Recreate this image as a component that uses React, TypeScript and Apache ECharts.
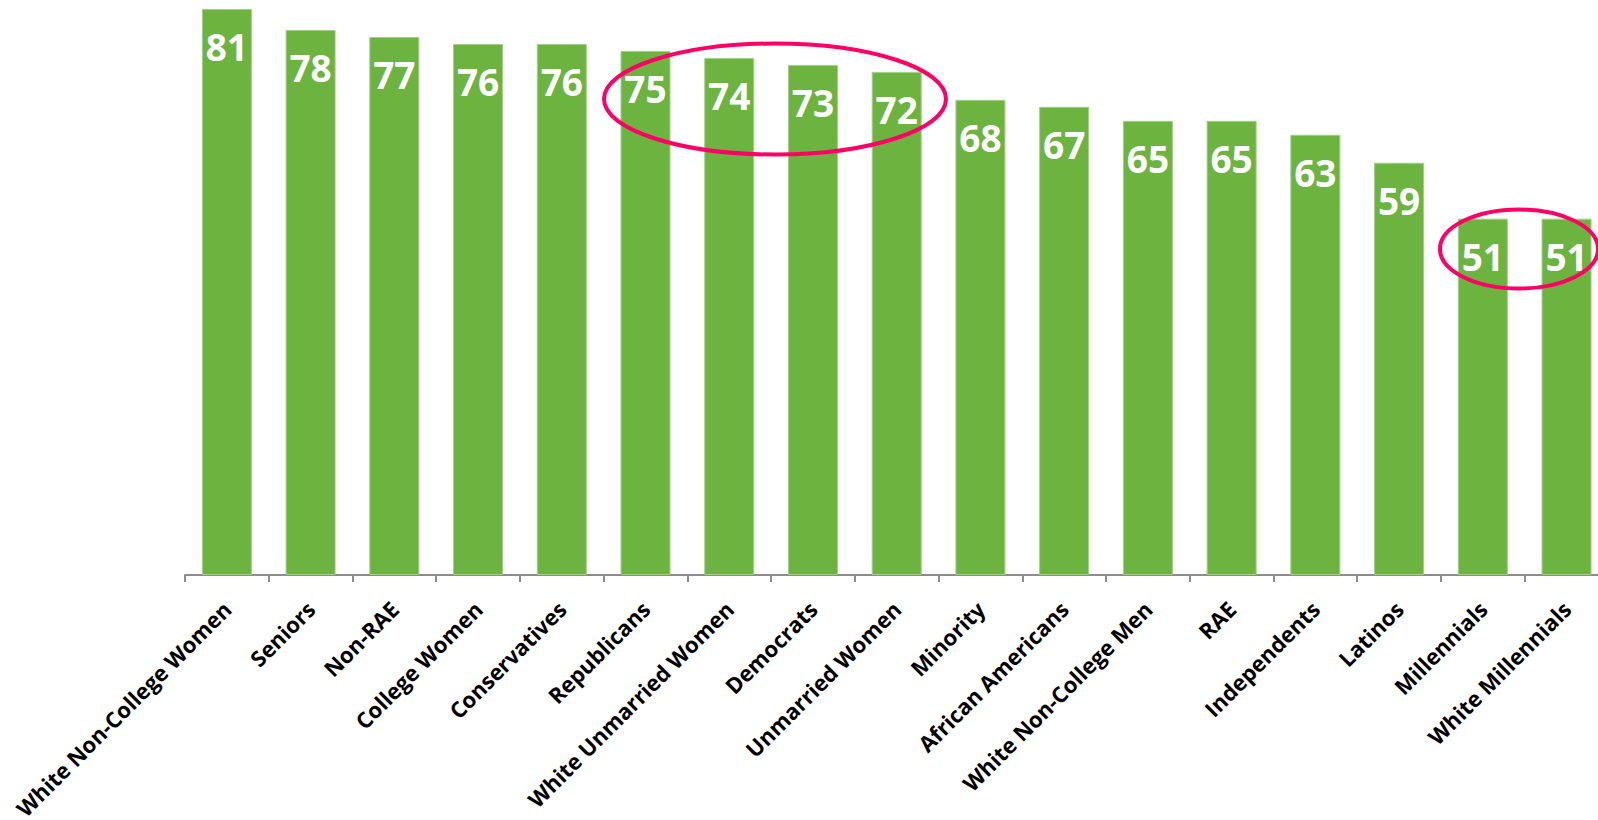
import React, { useEffect, useRef } from "react";
import * as echarts from "echarts";

const categories: string[] = [
  "White Non-College Women",
  "Seniors",
  "Non-RAE",
  "College Women",
  "Conservatives",
  "Republicans",
  "White Unmarried Women",
  "Democrats",
  "Unmarried Women",
  "Minority",
  "African Americans",
  "White Non-College Men",
  "RAE",
  "Independents",
  "Latinos",
  "Millennials",
  "White Millennials",
];

const values: number[] = [81, 78, 77, 76, 76, 75, 74, 73, 72, 68, 67, 65, 65, 63, 59, 51, 51];

export default function App() {
  const ref = useRef<HTMLDivElement>(null);

  useEffect(() => {
    if (!ref.current) return;
    const chart = echarts.init(ref.current, undefined, { renderer: "svg" });
    const catWidth = 83.73;
    const option: any = {
      animation: false,
      backgroundColor: "#ffffff",
      grid: {
        left: 185,
        top: 9,
        width: catWidth * categories.length,
        height: 566,
        containLabel: false,
        outerBoundsMode: "none",
      },
      xAxis: {
        type: "category",
        data: categories,
        axisLine: { show: true, lineStyle: { color: "#8c8c8c", width: 2 } },
        axisTick: { show: true, length: 7, lineStyle: { color: "#8c8c8c", width: 2 } },
        axisLabel: {
          rotate: 45,
          interval: 0,
          margin: 30,
          color: "#000000",
          fontFamily: "Open Sans",
          fontWeight: "bold",
          fontSize: 22,
        },
      },
      yAxis: {
        type: "value",
        min: 0,
        max: 81,
        show: false,
        splitLine: { show: false },
      },
      series: [
        {
          type: "bar",
          data: values,
          barWidth: 50,
          itemStyle: {
            color: "#6db33f",
            borderColor: "#a3cf87",
            borderWidth: 1,
          },
          label: {
            show: true,
            position: "insideTop",
            distance: 19,
            color: "#ffffff",
            fontFamily: "Open Sans",
            fontWeight: "bold",
            fontSize: 37,
          },
        },
      ],
      graphic: [
        {
          type: "ellipse",
          shape: { cx: 775, cy: 99, rx: 171, ry: 55.5 },
          style: { fill: "none", stroke: "#ff0066", lineWidth: 4 },
          z: 100,
        },
        {
          type: "ellipse",
          shape: { cx: 1519, cy: 249, rx: 79, ry: 39.5 },
          style: { fill: "none", stroke: "#ff0066", lineWidth: 4 },
          z: 100,
        },
      ],
    };
    chart.setOption(option);
    return () => {
      chart.dispose();
    };
  }, []);

  return (
    <div
      ref={ref}
      style={{ position: "absolute", left: 0, top: 0, width: 1598, height: 820, overflow: "hidden" }}
    />
  );
}
